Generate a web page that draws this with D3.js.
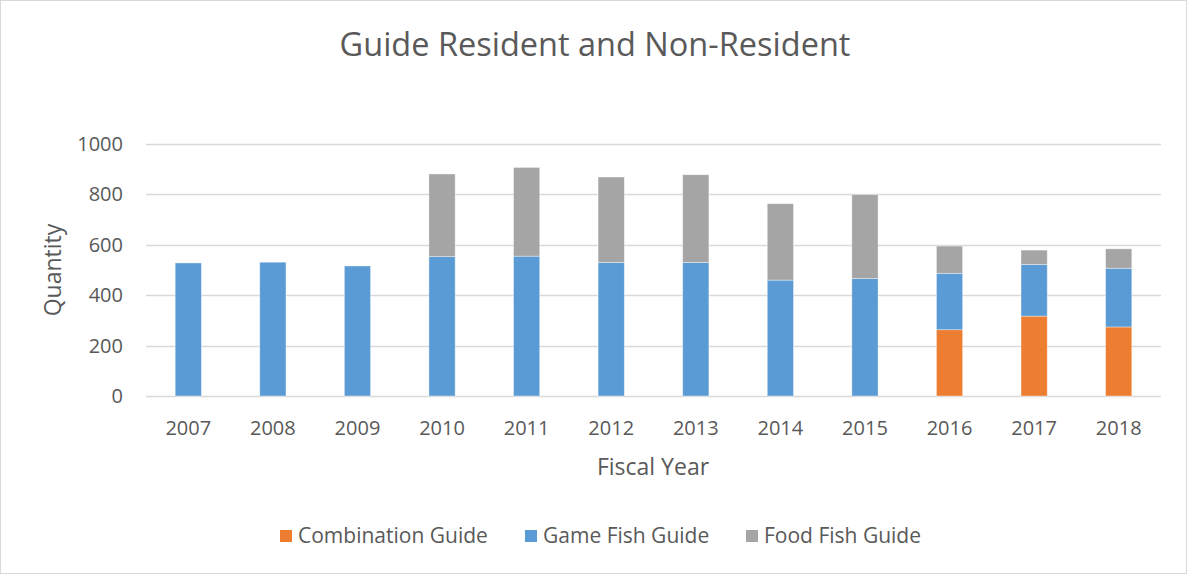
<!DOCTYPE html>
<html>
<head>
<meta charset="utf-8">
<script src="https://cdn.jsdelivr.net/npm/d3@7"></script>
<style>
  body { margin: 0; background: #fff; }
  text { font-family: "Open Sans", sans-serif; fill: #595959; }
</style>
</head>
<body>
<div id="chart"></div>
<script>
// Chart data
var years = ["2007", "2008", "2009", "2010", "2011", "2012", "2013", "2014", "2015", "2016", "2017", "2018"];
var combinationGuide = [0, 0, 0, 0, 0, 0, 0, 0, 0, 263, 317, 274];
var gameFishGuide = [528, 531, 516, 553, 555, 530, 530, 460, 466, 224, 205, 233];
var foodFishGuide = [0, 0, 0, 328, 352, 339, 348, 303, 333, 108, 57, 77];
var yTicks = [0, 200, 400, 600, 800, 1000];

var seriesNames = ["Combination Guide", "Game Fish Guide", "Food Fish Guide"];
var seriesColors = ["#ED7D31", "#5B9BD5", "#A5A5A5"];

function init() {
  var w = 1189, h = 575;
  var margin = { left: 146, right: 28, top: 144, bottom: 179 };

  var svg = d3.select("#chart").append("svg").attr("width", w).attr("height", h);

  // outer chart border
  svg.append("rect")
    .attr("x", 0.5).attr("y", 0.5)
    .attr("width", w - 3).attr("height", h - 2)
    .attr("fill", "#fff").attr("stroke", "#D9D9D9");

  // build rows for the stack layout
  var rows = years.map(function (y, i) {
    return {
      year: y,
      "Combination Guide": combinationGuide[i],
      "Game Fish Guide": gameFishGuide[i],
      "Food Fish Guide": foodFishGuide[i]
    };
  });
  var stacked = d3.stack().keys(seriesNames)(rows);

  var x = d3.scaleBand()
    .domain(years)
    .range([margin.left, w - margin.right])
    .paddingInner(0.69)
    .paddingOuter(0.345);

  var y = d3.scaleLinear()
    .domain([0, 1000])
    .range([h - margin.bottom, margin.top]);

  // gridlines
  svg.append("g")
    .selectAll("line")
    .data(yTicks)
    .enter()
    .append("line")
    .attr("x1", margin.left)
    .attr("x2", w - margin.right)
    .attr("y1", (d) => Math.round(y(d)) + 0.5)
    .attr("y2", (d) => Math.round(y(d)) + 0.5)
    .attr("stroke", "#D9D9D9")
    .attr("stroke-width", 1.3);

  // y tick labels
  svg.append("g")
    .selectAll("text")
    .data(yTicks)
    .enter()
    .append("text")
    .attr("x", 123)
    .attr("y", (d) => y(d))
    .attr("dy", "0.35em")
    .attr("text-anchor", "end")
    .style("font-size", "20px")
    .text((d) => d);

  // stacked bars
  svg.append("g")
    .selectAll("g")
    .data(stacked)
    .enter()
    .append("g")
    .attr("fill", (d, i) => seriesColors[i])
    .selectAll("rect")
    .data((d) => d.filter((p) => p[1] - p[0] > 0))
    .enter()
    .append("rect")
    .attr("x", (d) => x(d.data.year))
    .attr("y", (d) => y(d[1]))
    .attr("width", x.bandwidth())
    .attr("height", (d) => y(d[0]) - y(d[1]))
    .attr("stroke", "#fff")
    .attr("stroke-opacity", 0.5)
    .attr("stroke-width", 0.75);

  // x category labels
  svg.append("g")
    .selectAll("text")
    .data(years)
    .enter()
    .append("text")
    .attr("x", (d) => x(d) + x.bandwidth() / 2)
    .attr("y", 435)
    .attr("text-anchor", "middle")
    .style("font-size", "20px")
    .text((d) => d);

  // title
  svg.append("text")
    .attr("x", 595)
    .attr("y", 56)
    .attr("text-anchor", "middle")
    .style("font-size", "32.5px")
    .text("Guide Resident and Non-Resident");

  // axis titles
  svg.append("text")
    .attr("x", 653)
    .attr("y", 475)
    .attr("text-anchor", "middle")
    .style("font-size", "23px")
    .text("Fiscal Year");

  svg.append("text")
    .attr("transform", "translate(61,270) rotate(-90)")
    .attr("text-anchor", "middle")
    .style("font-size", "23px")
    .text("Quantity");

  // legend
  var legendX = [280, 525, 746];
  var legend = svg.append("g")
    .selectAll("g")
    .data(seriesNames)
    .enter()
    .append("g")
    .attr("transform", (d, i) => "translate(" + legendX[i] + ",530)");

  legend.append("rect")
    .attr("width", 12)
    .attr("height", 12)
    .attr("fill", (d, i) => seriesColors[i]);

  legend.append("text")
    .attr("x", 18)
    .attr("y", 6)
    .attr("dy", "0.35em")
    .style("font-size", "21px")
    .text((d) => d);
}

window.onload = init;
</script>
</body>
</html>
